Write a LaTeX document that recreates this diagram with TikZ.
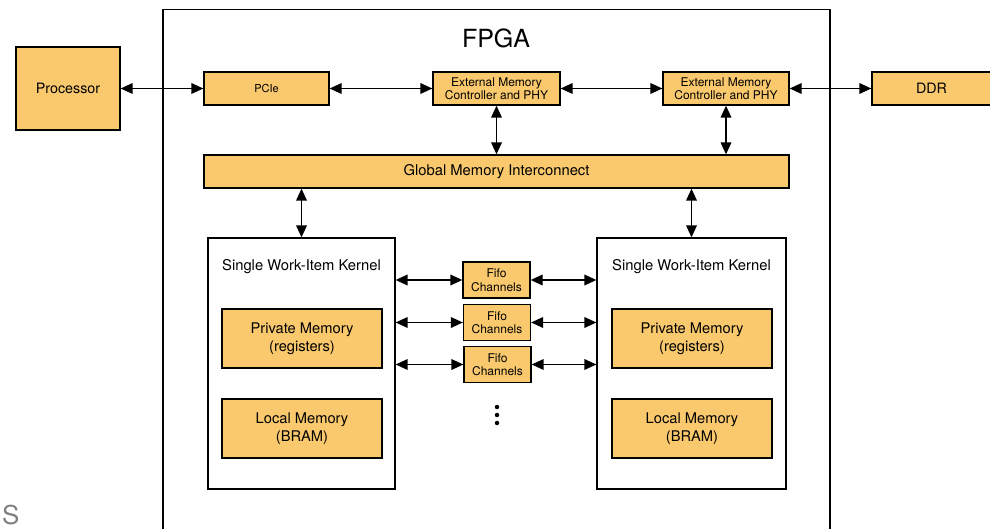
\documentclass[tikz,border=0pt]{standalone}
\usepackage{fontspec}
\setmainfont{TeX Gyre Heros}
\usetikzlibrary{arrows.meta}
\definecolor{boxorange}{RGB}{250,201,110}
\definecolor{lblgrey}{RGB}{128,128,128}
\newcommand{\fs}[2]{\fontsize{#1}{#2}\selectfont}
\begin{document}
\begin{tikzpicture}[x=1pt,y=-1pt,
  obox/.style={draw=black, fill=boxorange, line width=1.2pt, inner sep=0pt, align=center},
  kbox/.style={draw=black, fill=white, line width=1.2pt, inner sep=0pt},
  link/.style={line width=1.8pt, {Triangle[length=12pt,width=10.5pt]}-{Triangle[length=12pt,width=10.5pt]}},
  dotn/.style={fill=black, circle, inner sep=0pt, minimum size=4.5pt}
]
\useasboundingbox (0,0) rectangle (990,529);
% FPGA frame (open at the bottom)
\draw[line width=1.2pt] (163,531) -- (163,9.5) -- (830,9.5) -- (830,531);
\node[font=\fs{25}{30}] (fpga) at (496,38) {FPGA};
% grey letter at the lower left
\node[anchor=base west, inner sep=0pt, text=lblgrey, font=\fs{26}{30}] (s) at (2,524) {S};
% top row
\node[obox, minimum width=104pt, minimum height=83pt, font=\fs{14.3}{17}] (proc) at (68,88.5) {Processor};
\node[obox, minimum width=125pt, minimum height=33pt, font=\fs{11}{13}] (pcie) at (266.5,88.5) {PCIe};
\node[obox, minimum width=127pt, minimum height=33pt, font=\fs{12}{13.5}] (emc1) at (496.5,88.5) {External Memory\\Controller and PHY};
\node[obox, minimum width=126pt, minimum height=33pt, font=\fs{12}{13.5}] (emc2) at (726,88.5) {External Memory\\Controller and PHY};
\node[obox, minimum width=136pt, minimum height=33pt, font=\fs{14.3}{17}] (ddr) at (940,88.5) {\hspace*{-17pt}DDR};
% interconnect
\node[obox, minimum width=585pt, minimum height=33pt, font=\fs{14.8}{17}] (gmi) at (496.5,171.5) {Global Memory Interconnect};
% kernels
\node[kbox, minimum width=187pt, minimum height=251pt] (kl) at (301.5,363.5) {};
\node[kbox, minimum width=189pt, minimum height=251pt] (kr) at (691.5,363.5) {};
\node[font=\fs{14.8}{17}] (tl) at (301.5,267) {Single Work-Item Kernel};
\node[font=\fs{14.8}{17}] (tr) at (691.5,267) {Single Work-Item Kernel};
\node[obox, minimum width=160pt, minimum height=59pt, font=\fs{14.7}{18}] (pml) at (302,338.5) {Private Memory\\(registers)};
\node[obox, minimum width=160pt, minimum height=59pt, font=\fs{14.7}{18}] (lml) at (302,428.5) {Local Memory\\(BRAM)};
\node[obox, minimum width=160pt, minimum height=59pt, font=\fs{14.7}{18}] (pmr) at (692,338.5) {Private Memory\\(registers)};
\node[obox, minimum width=160pt, minimum height=59pt, font=\fs{14.7}{18}] (lmr) at (692,428.5) {Local Memory\\(BRAM)};
% fifo channels
\node[obox, minimum width=67pt, minimum height=36pt, font=\fs{12}{13.5}] (f1) at (496.5,280) {Fifo\\Channels};
\node[obox, minimum width=67pt, minimum height=36pt, font=\fs{12}{13.5}] (f2) at (497,322.5) {Fifo\\Channels};
\node[obox, minimum width=67pt, minimum height=36pt, font=\fs{12}{13.5}] (f3) at (497.5,364.5) {Fifo\\Channels};
\node[dotn] (d1) at (497,407) {};
\node[dotn] (d2) at (497,415) {};
\node[dotn] (d3) at (497,423) {};
% connectors
\draw[link] (proc.east |- pcie.west) -- (pcie.west);
\draw[link] (pcie.east) -- (emc1.west);
\draw[link] (emc1.east) -- (emc2.west);
\draw[link] (emc2.east) -- (ddr.west);
\draw[link] (emc1.south) -- (emc1.south |- gmi.north);
\draw[link] (emc2.south) -- (emc2.south |- gmi.north);
\draw[link] (kl.north |- gmi.south) -- (kl.north);
\draw[link] (kr.north |- gmi.south) -- (kr.north);
\draw[link] (f1.west -| kl.east) -- (f1.west);
\draw[link] (f1.east) -- (f1.east -| kr.west);
\draw[link] (f2.west -| kl.east) -- (f2.west);
\draw[link] (f2.east) -- (f2.east -| kr.west);
\draw[link] (f3.west -| kl.east) -- (f3.west);
\draw[link] (f3.east) -- (f3.east -| kr.west);
\end{tikzpicture}
\end{document}
